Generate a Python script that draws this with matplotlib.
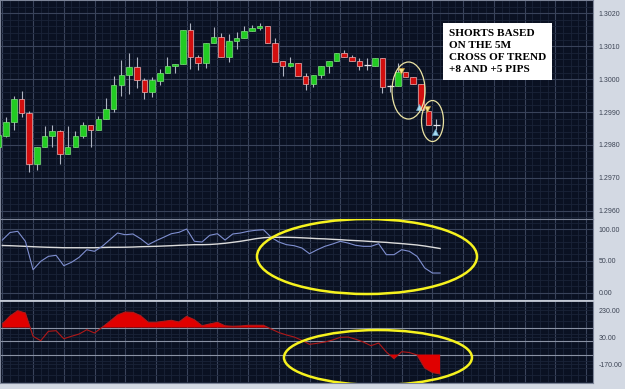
import matplotlib
matplotlib.use("Agg")
import matplotlib.pyplot as plt
import matplotlib.ticker as mticker
from matplotlib.patches import Ellipse
import numpy as np

# 5M EURUSD-style candles, oldest -> newest
opens = [1.29794, 1.29827, 1.29870, 1.29940, 1.29897, 1.29742, 1.29794, 1.29827, 1.29842, 1.29772,
         1.29794, 1.29827, 1.29860, 1.29845, 1.29879, 1.29909, 1.29982, 1.30013, 1.30037, 1.29997,
         1.29961, 1.29994, 1.30019, 1.30040, 1.30046, 1.30149, 1.30067, 1.30049, 1.30110, 1.30128,
         1.30067, 1.30116, 1.30125, 1.30146, 1.30155, 1.30161, 1.30110, 1.30055, 1.30040, 1.30049,
         1.30009, 1.29985, 1.30013, 1.30040, 1.30055, 1.30080, 1.30068, 1.30055, 1.30043, 1.30041,
         1.30064, 1.29979, 1.29979, 1.30022, 1.30007, 1.29985, 1.29903, 1.29860]
highs = [1.29835, 1.29885, 1.29949, 1.29964, 1.29903, 1.29794, 1.29857, 1.29860, 1.29845, 1.29857,
         1.29842, 1.29870, 1.29860, 1.29888, 1.29943, 1.30009, 1.30058, 1.30079, 1.30067, 1.30003,
         1.30006, 1.30031, 1.30067, 1.30046, 1.30149, 1.30170, 1.30073, 1.30110, 1.30158, 1.30140,
         1.30137, 1.30143, 1.30161, 1.30164, 1.30170, 1.30161, 1.30125, 1.30055, 1.30067, 1.30049,
         1.30019, 1.30013, 1.30040, 1.30055, 1.30079, 1.30089, 1.30073, 1.30064, 1.30064, 1.30064,
         1.30064, 1.29982, 1.30049, 1.30022, 1.30007, 1.29985, 1.29903, 1.29879]
lows = [1.29790, 1.29825, 1.29845, 1.29885, 1.29718, 1.29724, 1.29794, 1.29794, 1.29742, 1.29772,
        1.29794, 1.29821, 1.29794, 1.29845, 1.29879, 1.29900, 1.29949, 1.29955, 1.29973, 1.29940,
        1.29946, 1.29982, 1.30019, 1.30019, 1.30046, 1.30031, 1.30028, 1.30034, 1.30110, 1.30067,
        1.30052, 1.30092, 1.30125, 1.30146, 1.30149, 1.30110, 1.30052, 1.30009, 1.30037, 1.30009,
        1.29967, 1.29976, 1.30003, 1.30019, 1.30055, 1.30068, 1.30055, 1.30028, 1.30028, 1.30041,
        1.29958, 1.29961, 1.29979, 1.30007, 1.29985, 1.29906, 1.29860, 1.29845]
closes = [1.29830, 1.29870, 1.29940, 1.29897, 1.29742, 1.29794, 1.29827, 1.29842, 1.29772, 1.29794,
          1.29827, 1.29860, 1.29845, 1.29879, 1.29909, 1.29982, 1.30013, 1.30037, 1.29997, 1.29961,
          1.29997, 1.30019, 1.30040, 1.30046, 1.30149, 1.30067, 1.30049, 1.30110, 1.30128, 1.30067,
          1.30116, 1.30125, 1.30146, 1.30155, 1.30161, 1.30110, 1.30052, 1.30040, 1.30049, 1.30009,
          1.29985, 1.30013, 1.30040, 1.30055, 1.30079, 1.30068, 1.30055, 1.30041, 1.30043, 1.30064,
          1.29976, 1.29979, 1.30022, 1.30007, 1.29985, 1.29906, 1.29860, 1.29860]

# oscillator (blue) + its average (white)
osc = [82.7, 94.5, 96.4, 80.7, 36.1, 49.3, 57.1, 58.7, 42.4, 47.7,
       55.6, 67.5, 65.0, 72.8, 83.2, 93.7, 91.0, 92.2, 84.8, 75.4,
       81.6, 87.0, 92.6, 94.8, 100.0, 80.7, 79.6, 90.1, 92.6, 82.7,
       92.2, 93.7, 96.4, 98.0, 98.9, 87.0, 79.6, 75.4, 73.8, 70.2,
       61.2, 67.5, 72.8, 76.5, 80.7, 78.0, 74.4, 72.8, 72.8, 76.9,
       59.7, 59.7, 67.5, 65.0, 57.1, 38.8, 30.9, 30.9]
osc_avg = [74.1, 73.8, 73.3, 72.8, 72.2, 71.7, 71.3, 71.0, 70.6, 70.6,
           70.6, 70.6, 70.6, 71.0, 71.3, 71.3, 71.4, 71.7, 72.2, 72.5,
           72.8, 73.3, 73.8, 74.4, 74.9, 75.4, 75.4, 75.7, 76.5, 77.6,
           79.1, 80.7, 82.7, 84.8, 86.3, 87.0, 87.0, 87.0, 86.7, 86.2,
           85.6, 84.9, 84.5, 83.8, 83.2, 82.4, 81.8, 81.2, 80.4, 79.7,
           79.0, 78.0, 77.1, 76.0, 74.9, 73.3, 71.4, 69.4]

# CCI
cci = [126.3, 185.6, 224.8, 207.8, 35.2, 2.6, 72.2, 76.7, 17.4, 35.2,
       52.2, 84.1, 59.6, 101.9, 146.3, 193.0, 215.0, 213.0, 187.8, 138.9,
       138.9, 146.3, 153.7, 141.1, 183.3, 158.1, 113.7, 126.3, 138.9, 113.0,
       109.3, 111.5, 116.7, 116.7, 116.7, 89.3, 63.3, 44.8, 30.0, 5.6,
       -24.1, -16.7, -7.0, 7.8, 27.8, 30.0, 13.7, -7.0, -34.4, -14.4,
       -81.1, -130.7, -78.9, -84.8, -103.3, -199.6, -233.0, -244.0]

# short / cover signals
sell_x = [52.4, 55.8]
sell_px = [1.30026, 1.29909]
buy_x = [54.8, 56.8]
buy_px = [1.29916, 1.29840]

note = "SHORTS BASED\nON THE 5M\nCROSS OF TREND\n+8 AND +5 PIPS"

BG = "#0a1122"
n = len(closes)
idx = np.arange(n)
xk = idx + 0.5

fig = plt.figure(figsize=(6.25, 3.89), dpi=100, facecolor="#d3d9e3")
W = 593 / 625
ax1 = fig.add_axes([0, 170 / 389, W, 219 / 389])
ax2 = fig.add_axes([0, 88 / 389, W, 82 / 389])
ax3 = fig.add_axes([0, 6 / 389, W, 82 / 389])

for ax in (ax1, ax2, ax3):
    ax.set_facecolor(BG)
    ax.set_xlim(0.195, 77.41)
    ax.xaxis.set_major_locator(mticker.MultipleLocator(4, offset=0.5))
    ax.xaxis.set_minor_locator(mticker.MultipleLocator(1, offset=0.5))
    ax.grid(which="major", color="#39435a", lw=0.8)
    ax.grid(which="minor", color="#1a2338", lw=0.6)
    ax.set_axisbelow(True)
    ax.yaxis.tick_right()
    ax.tick_params(axis="y", which="both", length=0, pad=4, labelsize=5, labelcolor="#3c4454")
    ax.tick_params(axis="x", which="both", length=0, labelbottom=False)
    for s in ax.spines.values():
        s.set_color("#7d8598")
        s.set_linewidth(0.8)
ax2.spines["bottom"].set_color("#c4cad6")
ax2.spines["bottom"].set_linewidth(1.3)
ax3.spines["top"].set_color("#c4cad6")
ax3.spines["top"].set_linewidth(1.3)

# --- price panel
ax1.set_ylim(1.295748, 1.302404)
ax1.yaxis.set_major_locator(mticker.MultipleLocator(0.001))
ax1.yaxis.set_minor_locator(mticker.MultipleLocator(0.0002))
ax1.yaxis.set_major_formatter(mticker.FormatStrFormatter("%.4f"))

o = np.array(opens); c = np.array(closes)
up = c > o
dn = c < o
dj = c == o
ax1.vlines(idx, lows, highs, color="#aeb4c2", lw=0.8, zorder=2)
ax1.bar(idx[up], (c - o)[up], bottom=o[up], width=0.72, color="#22cc22",
        edgecolor="#7ee07e", lw=0.5, zorder=3)
ax1.bar(idx[dn], (o - c)[dn], bottom=c[dn], width=0.72, color="#d20f0f",
        edgecolor="#f0b4b4", lw=0.5, zorder=3)
ax1.hlines(c[dj], idx[dj] - 0.45, idx[dj] + 0.45, color="#e6e8ec", lw=0.9, zorder=3)

ax1.plot(sell_x, sell_px, "v", ms=5, color="#f4e48a", mec="#c89a3a", mew=0.5, zorder=5)
ax1.plot(buy_x, buy_px, "^", ms=5, color="#a8dcf2", mec="#6aa8c8", mew=0.5, zorder=5)

ax1.add_patch(Ellipse((53.39, 1.299653), 4.30, 0.001733, fill=False, ec="#ece4a4", lw=0.9, zorder=6))
ax1.add_patch(Ellipse((56.51, 1.298726), 2.86, 0.001246, fill=False, ec="#ece4a4", lw=0.9, zorder=6))

ax1.text(0.757, 0.868, note, transform=ax1.transAxes, ha="left", va="top",
         family="Liberation Serif", weight="bold", size=8.1, linespacing=1.45, color="black",
         bbox=dict(boxstyle="square,pad=0.5", fc="white", ec="none"), zorder=7)

# --- oscillator panel
ax2.set_ylim(-13.0, 115.7)
ax2.yaxis.set_major_locator(mticker.FixedLocator([0, 50, 100]))
ax2.yaxis.set_minor_locator(mticker.MultipleLocator(10))
ax2.yaxis.set_major_formatter(mticker.FormatStrFormatter("%.2f"))
ax2.plot(xk, osc_avg, color="#dcdcdc", lw=1.0, zorder=3)
ax2.plot(xk, osc, color="#7f8fd0", lw=0.8, zorder=4)
ax2.add_patch(Ellipse((47.98, 56.8), 28.65, 117.7, fill=False, ec="#f6f21e", lw=1.8, zorder=6))

# --- CCI panel
ax3.set_ylim(-310.7, 296.7)
ax3.yaxis.set_major_locator(mticker.FixedLocator([-170, 30, 230]))
ax3.yaxis.set_minor_locator(mticker.MultipleLocator(50))
ax3.yaxis.set_major_formatter(mticker.FormatStrFormatter("%.2f"))
ax3.grid(which="major", axis="y", color="#1a2338", lw=0.6)
for lvl in (100, 0, -100):
    ax3.axhline(lvl, color="#8a92a4", lw=0.8, zorder=2)
cc = np.array(cci)
ax3.fill_between(xk, cc, 100, where=cc > 100, interpolate=True, color="#e00000", lw=0, zorder=3)
ax3.fill_between(xk, cc, -100, where=cc < -100, interpolate=True, color="#e00000", lw=0, zorder=3)
ax3.plot(xk, cc, color="#b01818", lw=0.8, zorder=4)
ax3.add_patch(Ellipse((49.41, -121.9), 24.48, 407, fill=False, ec="#f6f21e", lw=1.8, zorder=6))

for ax in (ax1, ax2, ax3):
    for lab in ax.get_yticklabels():
        lab.set_family("Liberation Sans")

fig.savefig("out.png", dpi=100, facecolor=fig.get_facecolor())
